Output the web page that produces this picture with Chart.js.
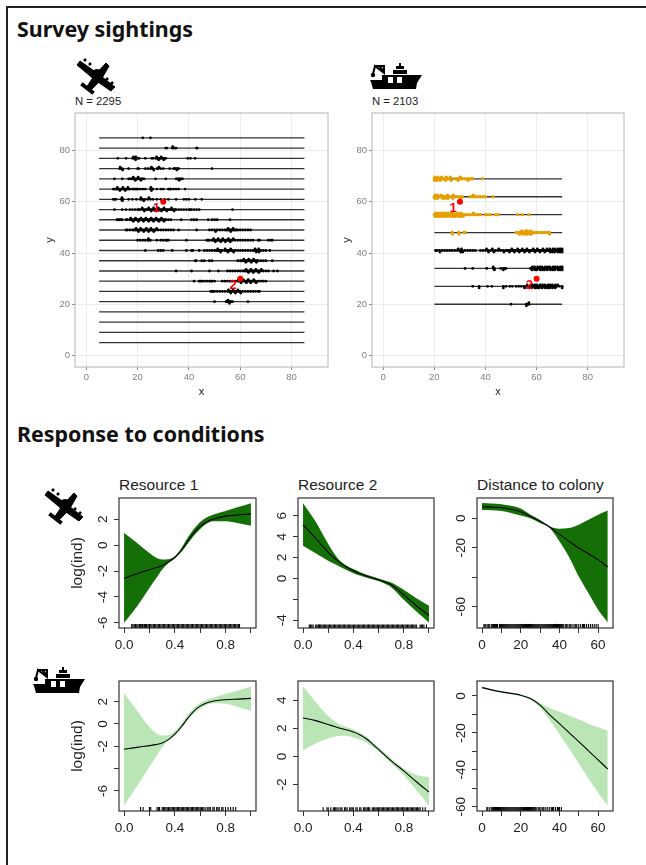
<!DOCTYPE html>
<html>
<head>
<meta charset="utf-8">
<title>Survey sightings</title>
<script src="https://cdn.jsdelivr.net/npm/chart.js@4"></script>
<style>
    html, body { margin: 0; padding: 0; background: #fff; overflow: hidden; }
    #page { position: relative; width: 646px; height: 865px; overflow: hidden; background: #fff; filter: blur(0.4px); }
    #page canvas, #page svg { position: absolute; }
    .frame-top { position: absolute; left: 6px; top: 6px; width: 640px; height: 1.5px; background: #222; }
    .frame-left { position: absolute; left: 6px; top: 6px; width: 1.5px; height: 859px; background: #222; }
    .heading { position: absolute; left: 17px; font: bold 21.4px "Noto Sans", sans-serif; color: #111; white-space: nowrap; }
    .count { position: absolute; top: 95px; font: 11.3px "Liberation Sans", sans-serif; color: #222; }
    .panel-title { position: absolute; top: 476px; font: 15.5px "Liberation Sans", sans-serif; color: #222; white-space: nowrap; }
</style>
</head>
<body>
<div id="page">
    <div class="frame-top"></div>
    <div class="frame-left"></div>
    <div class="heading" style="top:14px">Survey sightings</div>
    <div class="heading" style="top:419px">Response to conditions</div>
    <div class="count" style="left:75px">N = 2295</div>
    <div class="count" style="left:372px">N = 2103</div>
    <div class="panel-title" style="left:119px">Resource 1</div>
    <div class="panel-title" style="left:298px">Resource 2</div>
    <div class="panel-title" style="left:477px">Distance to colony</div>

    <svg width="0" height="0" style="left:0;top:0">
        <defs>
            <g id="plane" fill="#000" stroke="#000">
                <path d="M2,1 L19,13 L37,27 L33,31 L17,20 L-1,5 Z" stroke-width="1"/>
                <path d="M28,3 L31,6 L23,20 L12,31 L8,28 L16,16 Z" stroke-width="1"/>
                <circle cx="19" cy="15" r="6" stroke="none"/>
                <path d="M5,25 L14,32" stroke-width="4" stroke-linecap="square"/>
                <path d="M6,1 L8,-1 M11,5 L13,3 M28,20 L30,18 M33,24 L35,22" stroke-width="2.5"/>
            </g>
            <g id="ship" fill="#000">
                <path d="M12,12 L52,12 L47,20 L46,26 L3,26 L1,19 L0,17 L12,17 Z"/>
                <rect x="18" y="14" width="5" height="6" fill="#fff"/>
                <rect x="27" y="14" width="5" height="6" fill="#fff"/>
                <rect x="23" y="7" width="14" height="4"/>
                <rect x="26" y="3" width="8" height="3"/>
                <rect x="29" y="0" width="2" height="3"/>
                <path d="M5,3 L14,3 L14,10 L5,3 L3,11 M9,3 L14,8" fill="none" stroke="#000" stroke-width="2"/>
                <circle cx="3" cy="12" r="2.2"/>
            </g>
        </defs>
    </svg>
    <svg width="60" height="50" style="left:70px;top:53px"><use href="#plane" x="8" y="7"/></svg>
    <svg width="60" height="32" style="left:370px;top:63px"><use href="#ship"/></svg>
    <svg width="60" height="50" style="left:38px;top:483px"><use href="#plane" x="8" y="7"/></svg>
    <svg width="60" height="32" style="left:33px;top:667px"><use href="#ship"/></svg>

    <canvas id="mapPlane"></canvas>
    <canvas id="mapShip"></canvas>
    <canvas id="planeRes1"></canvas>
    <canvas id="planeRes2"></canvas>
    <canvas id="planeDist"></canvas>
    <canvas id="shipRes1"></canvas>
    <canvas id="shipRes2"></canvas>
    <canvas id="shipDist"></canvas>
</div>

<script>
// survey transects
const mapTicks = [0, 20, 40, 60, 80];
const planeLineY = [85, 81, 77, 73, 69, 65, 61, 57, 53, 49, 45, 41, 37, 33, 29, 25, 21, 17, 13, 9, 5];
const planeLineX = [5, 85];
const shipLineY = [69, 62, 55, 48, 41, 34, 27, 20];
const shipLineX = [20, 70];
const colonyX = [30, 60];
const colonyY = [60, 30];
const colonyLabels = ["1", "2"];
const colonyLabelX = [27.3, 57.2];
const colonyLabelY = [57.5, 27.2];

// sightings along each plane transect, same order as planeLineY
const planeSightX = [
    [22, 25],
    [31, 31.4, 33.5, 34, 34.6, 35, 43, 43.2],
    [12.3, 15.5, 18, 18.5, 19, 19.5, 20, 20.6, 23, 25.5, 26, 27, 27.5, 28, 28.6, 29, 29.5, 30, 30.6, 31, 39.5, 40.6, 42.4],
    [13, 13.5, 14, 16.5, 20, 20.4, 23, 24, 25, 25.6, 26, 27.5, 28, 29, 30, 32.5, 34, 34.5, 35, 35.6, 36, 49],
    [11, 14, 16.5, 17, 17.6, 18, 18.5, 19, 19.6, 20, 20.5, 21, 21.6, 22, 22.5, 27, 31, 35, 35.5, 36, 36.6, 37, 37.5],
    [10.5, 11, 11.6, 12, 12.5, 13, 13.6, 14, 14.5, 15, 15.5, 16, 16.6, 17, 18, 18.5, 19, 19.6, 20, 21, 22, 23, 25, 25.5, 26, 27.5, 29, 30, 32, 32.5, 33, 34, 35, 36, 38.5],
    [10.5, 11, 11.6, 13.5, 14, 14.3, 16.5, 18, 19.5, 21, 21.5, 22, 23, 24, 25, 26, 27.5, 29, 30.5, 32, 35, 38, 39, 40, 42.5, 45],
    [11, 14, 15.5, 17, 18, 19, 20, 20.5, 21, 22, 22.5, 23, 23.5, 24, 24.6, 25, 25.5, 26, 26.6, 27, 27.5, 28, 28.6, 29, 29.5, 30, 30.6, 31, 31.5, 32, 32.6, 33, 33.5, 34, 34.6, 35, 36, 37, 38, 39, 40, 40.5, 41, 42, 43, 44, 57],
    [12, 12.5, 13, 13.5, 14, 15.5, 16, 17, 17.5, 18, 18.6, 19, 19.6, 20, 20.5, 21, 21.6, 22, 22.5, 23, 23.6, 24, 24.5, 25, 25.6, 26, 26.5, 27, 27.6, 28, 28.6, 29, 29.5, 30, 30.6, 31, 32, 33, 37, 41, 42, 43, 47.5, 49, 50, 51, 56],
    [15.5, 16, 17, 18, 18.6, 19, 19.5, 20, 20.6, 21, 21.5, 22, 22.6, 23, 23.5, 24, 24.6, 25, 25.5, 26, 26.6, 27, 28, 29, 30, 31, 32, 33, 34, 36, 43, 48, 49, 50, 51, 52, 53, 54, 54.6, 55, 55.6, 56, 56.5, 57, 57.6, 58, 58.5, 59, 60, 61, 62, 63, 64],
    [20, 21, 22, 23, 24, 24.5, 25, 27.5, 29, 30, 31, 31.5, 32, 39, 47, 47.5, 48, 49, 49.5, 50, 50.6, 51, 51.5, 52, 52.6, 53, 53.5, 54, 54.6, 55, 55.5, 56, 56.6, 57, 58, 59, 60, 61, 62, 63, 64, 65, 67, 67.5, 71, 72, 72.5],
    [23, 28, 29, 30, 33.5, 39, 41, 41.5, 44, 46, 47, 48, 49, 50, 50.6, 51, 51.5, 52, 52.6, 53, 54, 54.6, 55, 55.5, 56, 56.6, 57, 58, 59, 60, 61, 62, 63, 64, 65, 65.6, 66, 66.5, 67, 67.6, 68, 69, 70, 71.5],
    [42.5, 42.8, 45, 46, 48, 49, 59, 60, 60.6, 61, 61.5, 62, 62.6, 63, 63.5, 64, 64.6, 65, 65.5, 66, 66.6, 67, 68, 69, 70, 72.5],
    [35, 41, 48, 51.5, 55, 56, 57, 58, 59, 60, 61, 61.6, 62, 62.5, 63, 63.6, 64, 64.5, 65, 65.6, 66, 66.5, 67, 67.6, 68, 69, 70, 71, 73, 74.5],
    [42, 44, 44.5, 45, 46, 47, 48, 48.5, 49, 50, 53, 54, 55, 56, 57, 58, 59, 59.6, 60, 60.5, 61, 61.6, 62, 62.5, 63, 63.6, 64, 64.5, 65, 65.6, 66, 67, 68, 69, 70],
    [48.5, 49, 49.5, 50, 51, 52, 53, 54, 55, 55.6, 56, 56.5, 57, 57.6, 58, 58.5, 59, 59.6, 60, 61, 62, 63, 64, 65, 66, 67, 67.5],
    [50, 54.5, 55, 55.5, 56, 56.5, 57, 63],
    [], [], [], []
];
// sightings just above and below the plane transects, where the bands look thick
const planeRowsUp = [
    [], [33.7], [18.4, 19.3, 27.4, 29.2], [13.2, 25.4, 28.3], [18.3, 20.2], [12.1, 14.3, 16.2, 25.2],
    [13.9, 21.3, 24.4], [21.8, 24.3, 26.2, 28.1, 30.3, 33.2], [17.3, 19.2, 21.3, 23.2, 25.3, 27.2, 29.3],
    [19.4, 21.2, 23.4, 25.2, 27.4, 55.3, 57.2], [24.2, 49.6, 51.4, 53.2, 55.4, 57.3], [51.2, 54.1, 56.3, 65.8, 67.2],
    [61.4, 63.3, 65.2], [62.3, 64.2, 66.1, 68.2], [59.3, 61.2, 63.1, 65.3], [55.4, 57.2, 59.1], [55.2],
    [], [], [], []
];
const planeRowsDown = [
    [], [], [19.2, 28.2, 30.2], [14.2, 26.3, 35.3], [19.1, 21.3, 36.2], [13.1, 15.2, 25.4],
    [14.1, 22.4], [22.6, 25.3, 27.3, 29.3, 31.4, 34.2], [18.3, 20.3, 22.3, 24.3, 26.2, 28.3, 30.3],
    [20.3, 22.4, 24.3, 26.3, 50.4, 56.3], [50.3, 52.4, 54.2, 56.1], [52.3, 55.2, 57.4, 66.2, 67.3],
    [62.2, 64.3, 66.3], [63.2, 65.1, 67.2], [60.3, 62.4, 64.1, 66.2], [56.3, 58.1, 60.2], [55.8],
    [], [], [], []
];

// sightings along each ship transect, same order as shipLineY
const shipSightX = [
    [20, 20.6, 21, 21.6, 22, 22.6, 23, 23.6, 24, 25, 26, 28, 29, 30, 31, 32, 33, 34, 34.5, 35, 38.9],
    [20, 20.6, 21, 21.6, 22, 22.6, 23, 23.6, 24, 24.6, 25, 25.6, 26, 27, 28, 29, 30, 31, 34, 35, 36, 37, 38, 39, 40, 43],
    [20, 20.6, 21, 21.6, 22, 22.6, 23, 23.6, 24, 24.6, 25, 25.6, 26, 26.6, 27, 27.6, 28, 28.6, 29, 29.6, 30, 30.6, 31, 31.6, 32, 33, 34, 35, 36, 37, 38, 40, 41, 42, 44, 45, 52.5, 54.5, 57],
    [27, 29.5, 31.5, 32, 52, 53, 53.6, 54, 54.6, 55, 55.6, 56, 56.6, 57, 57.6, 58, 59, 60, 61, 62, 63, 64, 65],
    [20.5, 21, 22, 23, 24, 25, 26, 27, 28, 29, 30, 31, 32, 33, 34, 35, 36, 38, 39, 40, 41, 42, 43, 44, 45, 46, 47, 48, 48.6, 49, 49.6, 50, 50.6, 51, 51.6, 52, 52.6, 53, 53.6, 54, 54.6, 55, 55.6, 56, 56.6, 57, 57.6, 58, 58.6, 59, 59.6, 60, 60.6, 61, 61.6, 62, 62.6, 63, 63.6, 64, 64.6, 65, 65.6, 66, 66.6, 67, 67.6, 68, 68.6, 69, 69.6, 70],
    [32, 35, 40.5, 43, 43.5, 46, 47, 47.5, 48, 57.6, 58, 58.6, 59, 59.6, 60, 60.6, 61, 61.6, 62, 62.6, 63, 63.6, 64, 64.6, 65, 65.6, 66, 66.6, 67, 67.6, 68, 68.6, 69, 69.6, 70],
    [35, 37.5, 40.8, 42.5, 47, 48, 49.5, 50.5, 52, 53, 54, 55, 56, 57, 58, 58.6, 59, 59.6, 60, 60.6, 61, 61.6, 62, 62.6, 63, 63.6, 64, 64.6, 65, 65.6, 66, 66.6, 67, 67.6, 68, 69, 70],
    [50, 56, 56.5, 57]
];
// extra rows for the thick parts of the ship bands
const shipRowsUp = [
    [20.2, 21.4, 22.8, 24.7, 26.3, 30.2],
    [20.4, 21.3, 22.7, 25.1, 27.4, 35.2],
    [20.6, 21.2, 22.4, 23.5, 24.3, 25.4, 26.7, 27.5, 29.1, 30.4, 35.3],
    [54.2, 55.7, 56.4, 57.8],
    [29.3, 30.6, 40.4, 42.7, 45.2, 50.3, 52.6, 54.4, 56.2, 58.7, 60.3, 62.5, 64.1, 65.2, 66.4, 67.3, 68.4, 69.2, 70],
    [43, 58.3, 59.2, 60.4, 61.3, 62.2, 63.4, 64.3, 65.2, 66.4, 67.3, 68.2, 69.3, 70],
    [56.3, 58.4, 59.3, 60.2, 61.4, 62.3, 63.2, 64.4, 65.3, 66.2, 67.4, 68.3],
    [57]
];
const shipRowsDown = [
    [20.1, 20.9, 22.2, 24.4, 26.6, 29.3, 33.2],
    [20.2, 21.1, 23.3, 24.2, 25.3, 27.2, 30.4],
    [20.3, 20.8, 21.7, 22.5, 23.4, 24.3, 25.2, 26.4, 27.3, 28.2, 29.4, 30.3, 31.2],
    [27.1, 29.6, 53.2, 54.3, 55.4, 56.2, 57.3, 58.1, 65.1],
    [22.2, 30.3, 31.1, 41.2, 43.3, 47.2, 49.4, 51.3, 53.2, 55.3, 57.2, 59.4, 61.3, 63.2, 65.3, 66.2, 67.1, 68.3, 69.2, 70],
    [43.5, 47, 58.2, 59.3, 60.1, 61.4, 62.3, 63.1, 64.2, 65.4, 66.3, 67.1, 68.4, 69.2, 70],
    [37.5, 47, 55.3, 57.1, 58.2, 59.4, 60.3, 61.1, 62.2, 63.4, 64.3, 65.1, 66.2, 67.3, 70],
    [56]
];

// response curves
const resourceX = [0, 0.1, 0.2, 0.25, 0.3, 0.35, 0.4, 0.45, 0.5, 0.55, 0.6, 0.65, 0.7, 0.8, 0.9, 1];
const resourceXTicks = [0, 0.2, 0.4, 0.6, 0.8, 1];
const resourceXLabels = ["0.0", "", "0.4", "", "0.8", ""];

const planeRes1Fit = [-2.55, -2.2, -1.9, -1.75, -1.56, -1.3, -0.95, -0.43, 0.3, 0.95, 1.45, 1.8, 2.0, 2.25, 2.33, 2.42];
const planeRes1Hi = [0.95, 0.2, -0.6, -0.95, -1.1, -1.08, -0.85, -0.25, 0.55, 1.25, 1.8, 2.15, 2.35, 2.65, 2.95, 3.25];
const planeRes1Lo = [-6.0, -4.75, -3.3, -2.6, -1.9, -1.38, -1.0, -0.53, 0.1, 0.73, 1.25, 1.65, 1.85, 1.85, 1.7, 1.5];
const planeRes1YTicks = [-6, -4, -2, 0, 2];
const planeRes1YLabels = ["-6", "-4", "-2", "0", "2"];
const planeRes1Rug = [0.06, 0.07, 0.08, 0.09, 0.1, 0.11, 0.12, 0.125, 0.13, 0.14, 0.145, 0.15, 0.16, 0.17, 0.175, 0.18, 0.19, 0.2, 0.21, 0.22, 0.23, 0.24, 0.25, 0.26, 0.27, 0.28, 0.29, 0.3, 0.31, 0.32, 0.33, 0.34, 0.35, 0.36, 0.37, 0.38, 0.39, 0.4, 0.41, 0.42, 0.43, 0.44, 0.45, 0.46, 0.47, 0.48, 0.49, 0.5, 0.51, 0.52, 0.53, 0.54, 0.55, 0.56, 0.57, 0.58, 0.59, 0.6, 0.61, 0.62, 0.63, 0.64, 0.65, 0.66, 0.67, 0.68, 0.69, 0.7, 0.71, 0.72, 0.73, 0.74, 0.75, 0.76, 0.77, 0.78, 0.79, 0.8, 0.81, 0.82, 0.83, 0.84, 0.85, 0.86, 0.87, 0.88, 0.89, 0.9, 0.905, 0.91];

const planeRes2Fit = [5.13, 3.85, 2.5, 1.95, 1.47, 1.08, 0.73, 0.47, 0.25, 0.06, -0.13, -0.33, -0.6, -1.56, -2.6, -3.53];
const planeRes2Hi = [7.2, 5.45, 3.3, 2.35, 1.62, 1.2, 0.9, 0.62, 0.38, 0.18, 0, -0.18, -0.38, -1.08, -1.88, -2.6];
const planeRes2Lo = [3.12, 2.42, 1.7, 1.38, 1.08, 0.78, 0.5, 0.28, 0.1, -0.07, -0.25, -0.5, -0.83, -2.04, -3.15, -4.2];
const planeRes2YTicks = [-4, -2, 0, 2, 4, 6];
const planeRes2YLabels = ["-4", "", "0", "2", "4", "6"];
const planeRes2Rug = [0.05, 0.06, 0.07, 0.08, 0.1, 0.11, 0.12, 0.125, 0.13, 0.14, 0.15, 0.16, 0.17, 0.18, 0.19, 0.2, 0.21, 0.22, 0.23, 0.24, 0.25, 0.26, 0.27, 0.28, 0.29, 0.3, 0.31, 0.32, 0.33, 0.34, 0.35, 0.36, 0.37, 0.38, 0.39, 0.4, 0.41, 0.42, 0.43, 0.44, 0.45, 0.46, 0.47, 0.48, 0.49, 0.5, 0.51, 0.52, 0.53, 0.54, 0.55, 0.56, 0.57, 0.58, 0.59, 0.6, 0.61, 0.62, 0.63, 0.64, 0.65, 0.66, 0.67, 0.68, 0.69, 0.7, 0.71, 0.72, 0.73, 0.74, 0.75, 0.76, 0.77, 0.78, 0.79, 0.8, 0.81, 0.82, 0.83, 0.84, 0.85, 0.86, 0.87, 0.88, 0.89, 0.9, 0.93, 0.94, 0.95, 0.96, 0.98];

const shipRes1Fit = [-2.26, -2.1, -1.94, -1.85, -1.7, -1.4, -0.92, -0.27, 0.48, 1.16, 1.6, 1.87, 2.03, 2.17, 2.23, 2.29];
const shipRes1Hi = [2.8, 1.22, -0.27, -0.8, -1.04, -1.0, -0.62, 0.03, 0.77, 1.43, 1.88, 2.17, 2.35, 2.68, 3.0, 3.36];
const shipRes1Lo = [-7.3, -5.6, -3.84, -2.95, -2.11, -1.46, -1.04, -0.42, 0.33, 0.92, 1.37, 1.7, 1.85, 1.82, 1.52, 1.16];
const shipRes1YTicks = [-6, -4, -2, 0, 2];
const shipRes1YLabels = ["-6", "", "-2", "0", "2"];
const shipRes1Rug = [0.13, 0.15, 0.2, 0.21, 0.26, 0.27, 0.28, 0.3, 0.31, 0.32, 0.33, 0.34, 0.35, 0.36, 0.37, 0.38, 0.39, 0.4, 0.41, 0.42, 0.43, 0.44, 0.45, 0.46, 0.47, 0.48, 0.49, 0.5, 0.51, 0.52, 0.53, 0.54, 0.55, 0.56, 0.57, 0.58, 0.59, 0.6, 0.61, 0.62, 0.63, 0.645, 0.66, 0.67, 0.68, 0.7, 0.71, 0.73, 0.74, 0.75, 0.77, 0.78, 0.8, 0.82, 0.84, 0.86, 0.88];

const shipRes2Fit = [2.74, 2.55, 2.27, 2.13, 1.99, 1.88, 1.74, 1.55, 1.28, 0.9, 0.5, 0.1, -0.31, -1.02, -1.8, -2.53];
const shipRes2Hi = [4.99, 3.88, 2.86, 2.5, 2.22, 2.08, 1.92, 1.7, 1.44, 1.05, 0.64, 0.25, -0.14, -0.85, -1.32, -1.47];
const shipRes2Lo = [0.45, 0.92, 1.28, 1.4, 1.47, 1.45, 1.35, 1.2, 0.99, 0.7, 0.35, -0.08, -0.5, -1.32, -2.39, -3.5];
const shipRes2YTicks = [-2, 0, 2, 4];
const shipRes2YLabels = ["-2", "0", "2", "4"];
const shipRes2Rug = [0.16, 0.19, 0.2, 0.22, 0.24, 0.25, 0.26, 0.27, 0.285, 0.3, 0.31, 0.33, 0.34, 0.35, 0.37, 0.38, 0.39, 0.4, 0.42, 0.43, 0.45, 0.46, 0.48, 0.49, 0.5, 0.51, 0.52, 0.53, 0.55, 0.56, 0.57, 0.58, 0.59, 0.6, 0.61, 0.62, 0.63, 0.64, 0.65, 0.66, 0.67, 0.68, 0.69, 0.7, 0.71, 0.72, 0.73, 0.74, 0.75, 0.76, 0.77, 0.78, 0.79, 0.8, 0.81, 0.82, 0.83, 0.84, 0.85, 0.86, 0.87, 0.88, 0.89, 0.9, 0.91, 0.92, 0.93, 0.95, 0.97];

const distX = [0, 10, 20, 25, 30, 35, 40, 45, 50, 55, 60, 65];
const distXTicks = [0, 10, 20, 30, 40, 50, 60];
const distXLabels = ["0", "", "20", "", "40", "", "60"];

const planeDistFit = [7.9, 7.2, 4.5, 1.4, -2, -5.9, -10.9, -15.6, -20.1, -24, -28, -33];
const planeDistHi = [10.4, 9.5, 6.6, 2.4, -1.1, -5.6, -7, -6.6, -4.3, -0.9, 2.5, 5.4];
const planeDistLo = [5.7, 5, 2, 0, -3.2, -6.6, -15.6, -26.2, -39.4, -50.7, -62, -70.6];
const planeDistYTicks = [-60, -40, -20, 0];
const planeDistYLabels = ["-60", "", "-20", "0"];
const planeDistRug = [1, 1.5, 2, 3, 3.5, 4, 5, 5.5, 6, 6.5, 7, 7.5, 8, 9, 9.5, 10, 10.5, 11, 11.5, 12, 12.5, 13, 13.5, 14, 14.5, 15, 15.5, 16, 16.5, 17, 17.5, 18, 18.5, 19, 19.5, 20, 20.5, 21, 21.5, 22, 22.5, 23, 23.5, 24, 24.5, 25, 25.5, 26, 26.5, 27, 27.5, 28, 28.5, 29, 29.5, 30, 30.5, 31, 31.5, 32, 32.5, 33, 33.5, 34, 34.5, 35, 35.5, 36, 36.5, 37, 37.5, 38, 38.5, 39, 39.5, 40, 40.5, 41, 41.5, 42, 43, 43.5, 44, 45, 45.5, 46, 47, 48, 48.5, 49, 50, 51, 52, 52.5, 53, 54, 55, 56, 57, 58, 59, 60];

const shipDistFit = [4.5, 2.2, 0.4, -1.4, -5, -10.2, -15, -19.9, -24.7, -29.7, -34.6, -39.6];
const shipDistHi = [4.9, 2.5, 0.7, -0.9, -3.8, -6.5, -8.6, -10.6, -12.8, -15, -17, -18.9];
const shipDistLo = [4.1, 1.8, 0, -2, -6.3, -13.2, -20.7, -28.5, -36.6, -44.7, -52.4, -59.5];
const shipDistYTicks = [-60, -50, -40, -30, -20, -10, 0];
const shipDistYLabels = ["-60", "", "-40", "", "-20", "", "0"];
const shipDistRug = [2.5, 3, 4, 5, 5.5, 6, 6.5, 7, 7.5, 8, 8.5, 9, 9.5, 10, 10.5, 11, 11.5, 12, 12.5, 13, 13.5, 14, 14.5, 15, 15.5, 16, 16.5, 17, 17.5, 18, 18.5, 19, 19.5, 20, 20.5, 21, 21.5, 22, 22.5, 23, 23.5, 24, 24.5, 25, 25.5, 26, 26.5, 27, 27.5, 28, 29, 29.5, 30, 31, 31.5, 32, 33, 34, 35, 36, 36.5, 37, 38, 39, 39.5, 40, 41];

const darkGreen = "#147006";
const lightGreen = "#b9e6b4";
const amber = "#e69f00";

const font = "'Liberation Sans', sans-serif";
const edgePad = 24; // room round the plot so Chart.js never shrinks it

function placeCanvas(id, left, top, plotW, plotH, axisW, axisH) {
    const canvas = document.getElementById(id);
    canvas.width = axisW + plotW + edgePad;
    canvas.height = edgePad + plotH + axisH;
    canvas.style.left = (left - axisW) + "px";
    canvas.style.top = (top - edgePad) + "px";
    return canvas;
}

function boxPlugin(color, width) {
    return {
        id: "box",
        afterDatasetsDraw(chart) {
            const a = chart.chartArea, c = chart.ctx;
            c.save();
            c.strokeStyle = color;
            c.lineWidth = width;
            c.strokeRect(a.left, a.top, a.right - a.left, a.bottom - a.top);
            c.restore();
        }
    };
}

// the red numbers next to the colony points
const colonyTextPlugin = {
    id: "colonyText",
    afterDatasetsDraw(chart) {
        const c = chart.ctx;
        c.save();
        c.fillStyle = "#f00";
        c.font = "bold 13px " + font;
        c.textAlign = "center";
        c.textBaseline = "middle";
        colonyLabels.forEach((t, i) => {
            c.fillText(t, chart.scales.x.getPixelForValue(colonyLabelX[i]), chart.scales.y.getPixelForValue(colonyLabelY[i]));
        });
        c.restore();
    }
};

function fixedTicks(values) {
    return function(scale) {
        scale.ticks = values.map(v => ({ value: v }));
    };
}

function transectLines(lineY, lineX) {
    return lineY.map(y => ({
        data: lineX.map(x => ({ x: x, y: y })),
        showLine: true,
        borderColor: "#333",
        borderWidth: 1.3,
        pointRadius: 0
    }));
}

function sightings(xs, y, color, r) {
    return {
        data: xs.map(x => ({ x: x, y: y })),
        backgroundColor: color,
        pointRadius: r,
        pointBorderWidth: 0
    };
}

function makeMap(id, left, plotW, lineY, lineX, rows, rowsUp, rowsDown, amberRows) {
    const canvas = placeCanvas(id, left, 113, plotW, 254, 32, 32);
    const points = [];
    lineY.forEach((y, i) => {
        const color = i < amberRows ? amber : "#000";
        const r = i < amberRows ? 1.7 : 1.4;
        points.push(sightings(rows[i], y, color, r));
        points.push(sightings(rowsUp[i], y + 0.6, color, r));
        points.push(sightings(rowsDown[i], y - 0.6, color, r));
    });
    const colony = {
        data: colonyX.map((x, i) => ({ x: x, y: colonyY[i] })),
        backgroundColor: "#f00",
        pointRadius: 3,
        pointBorderWidth: 0
    };
    new Chart(canvas, {
        type: "scatter",
        data: { datasets: [colony].concat(points, transectLines(lineY, lineX)) },
        plugins: [colonyTextPlugin, boxPlugin("#b4b4b4", 1)],
        options: {
            responsive: false,
            animation: false,
            layout: { padding: { top: edgePad, right: edgePad } },
            plugins: { legend: { display: false }, tooltip: { enabled: false } },
            scales: {
                x: {
                    min: -4.4, max: 94.2,
                    afterBuildTicks: fixedTicks(mapTicks),
                    afterFit(s) { s.height = 32; },
                    border: { display: false },
                    grid: { color: "#ececec", lineWidth: 1, tickColor: "#888", tickLength: 3 },
                    ticks: { autoSkip: false, maxRotation: 0, padding: 2, color: "#808080", font: { family: font, size: 9.5 } },
                    title: { display: true, text: "x", color: "#222", padding: 0, font: { family: font, size: 11 } }
                },
                y: {
                    min: -4.5, max: 94.7,
                    afterBuildTicks: fixedTicks(mapTicks),
                    afterFit(s) { s.width = 32; },
                    border: { display: false },
                    grid: { color: "#ececec", lineWidth: 1, tickColor: "#888", tickLength: 3 },
                    ticks: { autoSkip: false, padding: 2, color: "#808080", font: { family: font, size: 9.5 } },
                    title: { display: true, text: "y", color: "#222", padding: 0, font: { family: font, size: 11 } }
                }
            }
        }
    });
}

function makeCurve(cfg) {
    const canvas = placeCanvas(cfg.id, cfg.left, cfg.top, cfg.plotW, 130, 51, 32);
    const toPoints = vals => cfg.xs.map((x, i) => ({ x: x, y: vals[i] }));
    new Chart(canvas, {
        type: "scatter",
        data: {
            datasets: [
                { data: toPoints(cfg.fit), showLine: true, borderColor: "#000", borderWidth: 1.1, pointRadius: 0, cubicInterpolationMode: "monotone" },
                {
                    data: cfg.rug.map(x => ({ x: x, y: cfg.rugLevel })),
                    pointStyle: "line", rotation: 90, pointRadius: 2, pointBorderWidth: 1.1, pointBorderColor: "#000"
                },
                { data: toPoints(cfg.hi), showLine: true, borderWidth: 0, pointRadius: 0, cubicInterpolationMode: "monotone", fill: "+1", backgroundColor: cfg.color },
                { data: toPoints(cfg.lo), showLine: true, borderWidth: 0, pointRadius: 0, cubicInterpolationMode: "monotone" }
            ]
        },
        plugins: [boxPlugin("#333", 1.2)],
        options: {
            responsive: false,
            animation: false,
            layout: { padding: { top: edgePad, right: edgePad } },
            plugins: { legend: { display: false }, tooltip: { enabled: false } },
            scales: {
                x: {
                    min: cfg.xMin, max: cfg.xMax,
                    afterBuildTicks: fixedTicks(cfg.xTicks),
                    afterFit(s) { s.height = 32; },
                    border: { display: false },
                    grid: { drawOnChartArea: false, tickColor: "#333", tickLength: 5, lineWidth: 1 },
                    ticks: { autoSkip: false, maxRotation: 0, padding: 4, color: "#222", font: { family: font, size: 13.5 }, callback: (v, i) => cfg.xLabels[i] }
                },
                y: {
                    min: cfg.yMin, max: cfg.yMax,
                    afterBuildTicks: fixedTicks(cfg.yTicks),
                    afterFit(s) { s.width = 51; },
                    border: { display: false },
                    grid: { drawOnChartArea: false, tickColor: "#333", tickLength: 5, lineWidth: 1 },
                    ticks: {
                        autoSkip: false, minRotation: 90, maxRotation: 90, crossAlign: "center",
                        padding: cfg.yPad, color: "#222", font: { family: font, size: 13.5 },
                        callback: (v, i) => cfg.yLabels[i]
                    },
                    title: { display: !!cfg.yTitle, text: cfg.yTitle, color: "#222", padding: 0, font: { family: font, size: 15.5 } }
                }
            }
        }
    });
}

makeMap("mapPlane", 75, 253, planeLineY, planeLineX, planeSightX, planeRowsUp, planeRowsDown, 0);
makeMap("mapShip", 372, 252, shipLineY, shipLineX, shipSightX, shipRowsUp, shipRowsDown, 4);

const resourceBase = { xs: resourceX, xMin: -0.04, xMax: 1.04, xTicks: resourceXTicks, xLabels: resourceXLabels };
const distBase = { xs: distX, xMin: -2.6, xMax: 67.7, xTicks: distXTicks, xLabels: distXLabels };

makeCurve(Object.assign({}, resourceBase, {
    id: "planeRes1", left: 119, top: 498, plotW: 137, color: darkGreen,
    fit: planeRes1Fit, hi: planeRes1Hi, lo: planeRes1Lo, rug: planeRes1Rug, rugLevel: -6.25,
    yMin: -6.4, yMax: 3.65, yTicks: planeRes1YTicks, yLabels: planeRes1YLabels, yPad: 5, yTitle: "log(ind)"
}));
makeCurve(Object.assign({}, resourceBase, {
    id: "planeRes2", left: 298, top: 498, plotW: 136, color: darkGreen,
    fit: planeRes2Fit, hi: planeRes2Hi, lo: planeRes2Lo, rug: planeRes2Rug, rugLevel: -4.58,
    yMin: -4.73, yMax: 7.69, yTicks: planeRes2YTicks, yLabels: planeRes2YLabels, yPad: 5
}));
makeCurve(Object.assign({}, distBase, {
    id: "planeDist", left: 477, top: 498, plotW: 136, color: darkGreen,
    fit: planeDistFit, hi: planeDistHi, lo: planeDistLo, rug: planeDistRug, rugLevel: -73,
    yMin: -74.4, yMax: 13.8, yTicks: planeDistYTicks, yLabels: planeDistYLabels, yPad: 1
}));
makeCurve(Object.assign({}, resourceBase, {
    id: "shipRes1", left: 119, top: 681, plotW: 137, color: lightGreen,
    fit: shipRes1Fit, hi: shipRes1Hi, lo: shipRes1Lo, rug: shipRes1Rug, rugLevel: -7.63,
    yMin: -7.8, yMax: 3.85, yTicks: shipRes1YTicks, yLabels: shipRes1YLabels, yPad: 5, yTitle: "log(ind)"
}));
makeCurve(Object.assign({}, resourceBase, {
    id: "shipRes2", left: 298, top: 681, plotW: 136, color: lightGreen,
    fit: shipRes2Fit, hi: shipRes2Hi, lo: shipRes2Lo, rug: shipRes2Rug, rugLevel: -3.75,
    yMin: -3.88, yMax: 5.37, yTicks: shipRes2YTicks, yLabels: shipRes2YLabels, yPad: 5
}));
makeCurve(Object.assign({}, distBase, {
    id: "shipDist", left: 477, top: 681, plotW: 136, color: lightGreen,
    fit: shipDistFit, hi: shipDistHi, lo: shipDistLo, rug: shipDistRug, rugLevel: -61.2,
    yMin: -62.3, yMax: 8.1, yTicks: shipDistYTicks, yLabels: shipDistYLabels, yPad: 1
}));
</script>
</body>
</html>
